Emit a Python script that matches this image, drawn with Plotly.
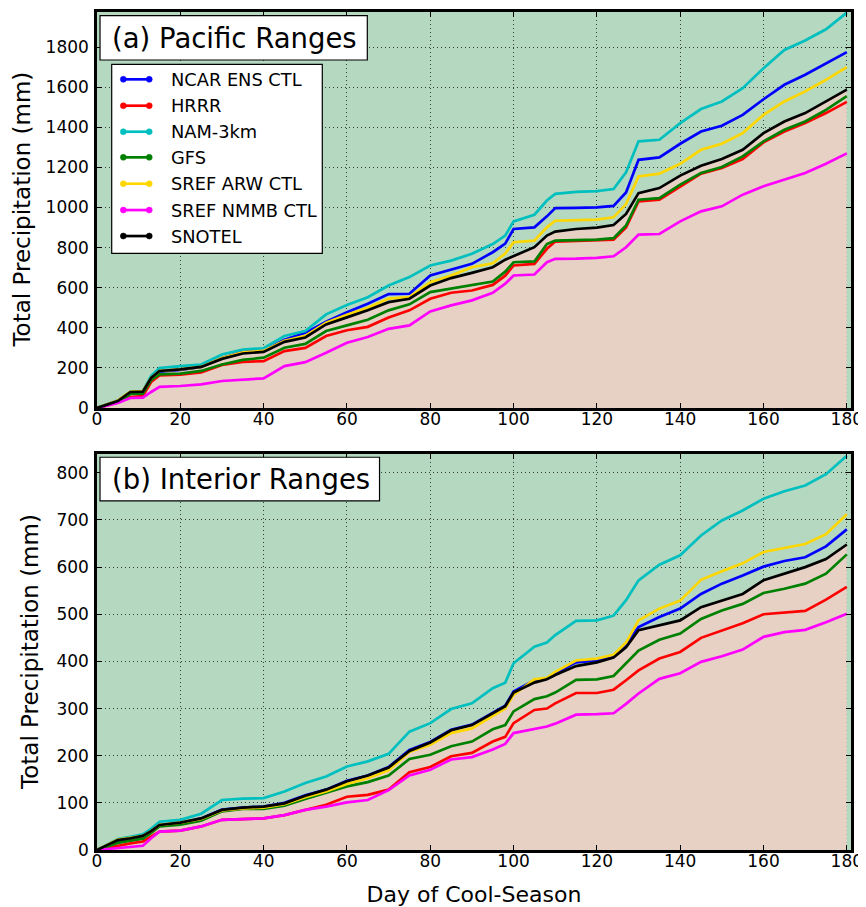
import plotly.graph_objects as go
from plotly.subplots import make_subplots

# ---------------- data ----------------
days = [0, 5, 8, 11, 13, 15, 20, 25, 30, 35, 40, 45, 50, 55, 60, 65, 70, 75, 80, 85, 90,
        95, 98, 100, 105, 108, 110, 115, 120, 124, 127, 130, 135, 140, 145, 150, 155, 160,
        165, 170, 175, 180]

series_names = ["NCAR ENS CTL", "HRRR", "NAM-3km", "GFS", "SREF ARW CTL", "SREF NMMB CTL", "SNOTEL"]
series_colors = ["#0000FF", "#FF0000", "#00BFBF", "#008000", "#FFD700", "#FF00FF", "#000000"]

# (a) Pacific Ranges
pac_ncar = [0, 37, 80, 82, 150, 182, 190, 205, 250, 280, 285, 340, 375, 430, 478, 520, 568, 570, 661, 691, 719,
            777, 820, 893, 901, 956, 997, 998, 1001, 1008, 1075, 1238, 1250, 1318, 1379, 1408, 1462, 1540,
            1612, 1662, 1720, 1775]
pac_hrrr = [0, 28, 55, 60, 130, 163, 167, 178, 215, 230, 234, 284, 300, 359, 388, 405, 452, 487, 545, 575, 586,
            614, 660, 711, 719, 794, 830, 833, 835, 840, 901, 1031, 1039, 1106, 1169, 1197, 1242, 1325,
            1379, 1421, 1471, 1527]
pac_nam = [0, 37, 82, 84, 160, 200, 209, 217, 267, 292, 298, 359, 384, 467, 514, 553, 611, 653, 711, 735, 769,
           818, 860, 931, 964, 1035, 1068, 1078, 1082, 1092, 1176, 1330, 1338, 1421, 1491, 1529, 1595, 1695,
           1786, 1833, 1889, 1972]
pac_gfs = [0, 30, 70, 72, 140, 168, 172, 185, 217, 240, 251, 301, 320, 384, 412, 440, 487, 517, 578, 595, 611,
           631, 680, 727, 731, 818, 835, 838, 840, 847, 910, 1039, 1047, 1114, 1172, 1202, 1255, 1330,
           1388, 1429, 1487, 1556]
pac_arw = [0, 38, 82, 84, 150, 185, 193, 205, 250, 278, 285, 335, 360, 425, 465, 500, 546, 553, 628, 661, 702,
           722, 770, 827, 835, 901, 934, 937, 940, 951, 1017, 1155, 1169, 1218, 1288, 1318, 1371, 1462,
           1529, 1579, 1637, 1700]
pac_nmmb = [0, 25, 50, 52, 80, 106, 110, 118, 135, 143, 148, 209, 229, 276, 326, 354, 395, 412, 482, 512, 537,
            575, 620, 661, 666, 727, 744, 745, 749, 757, 802, 865, 868, 931, 981, 1006, 1064, 1106,
            1139, 1172, 1218, 1270]
pac_snotel = [0, 35, 80, 82, 150, 185, 193, 205, 245, 272, 280, 330, 352, 417, 452, 488, 528, 545, 611, 648, 674,
              702, 740, 757, 802, 860, 880, 893, 900, 913, 968, 1072, 1097, 1159, 1208, 1242, 1288, 1371,
              1429, 1471, 1529, 1588]

# (b) Interior Ranges
int_ncar = [0, 20, 24, 28, 38, 52, 57, 67, 86, 90, 92, 100, 116, 128, 147, 158, 176, 212, 229, 255, 266,
            290, 306, 336, 360, 364, 375, 398, 402, 411, 438, 473, 494, 512, 543, 565, 582, 601,
            613, 621, 644, 680]
int_hrrr = [0, 9, 14, 18, 28, 39, 41, 50, 64, 66, 67, 74, 85, 96, 113, 117, 128, 165, 176, 199, 206,
            230, 240, 269, 297, 300, 311, 333, 333, 340, 360, 381, 406, 420, 450, 466, 481, 500,
            503, 507, 531, 558]
int_nam = [0, 23, 28, 33, 45, 60, 64, 77, 106, 109, 110, 124, 142, 156, 177, 188, 204, 251, 269, 299, 311,
           343, 355, 396, 431, 440, 456, 486, 487, 497, 530, 572, 605, 625, 667, 699, 720, 745,
           761, 773, 797, 836]
int_gfs = [0, 15, 20, 24, 36, 50, 54, 62, 82, 87, 87, 94, 108, 121, 135, 144, 158, 193, 202, 220, 230,
           256, 265, 294, 320, 326, 334, 361, 362, 369, 395, 423, 446, 459, 490, 508, 522, 545,
           554, 565, 586, 627]
int_arw = [0, 22, 26, 30, 40, 53, 58, 66, 84, 88, 90, 97, 112, 124, 140, 152, 169, 208, 223, 248, 258,
           285, 300, 329, 362, 365, 378, 402, 406, 414, 440, 487, 512, 529, 573, 591, 608, 632,
           641, 649, 670, 712]
int_nmmb = [0, 4, 7, 9, 25, 39, 41, 50, 64, 66, 67, 74, 85, 92, 101, 106, 127, 158, 170, 192, 197,
            213, 225, 248, 256, 262, 268, 287, 288, 290, 310, 332, 363, 375, 399, 411, 425, 452,
            462, 467, 483, 501]
int_snotel = [0, 21, 25, 30, 40, 53, 58, 67, 85, 90, 92, 99, 115, 128, 146, 158, 175, 210, 228, 254, 265,
              289, 305, 334, 355, 362, 371, 390, 398, 408, 430, 466, 476, 487, 515, 529, 543, 572,
              586, 600, 617, 648]

panels = [
    ("(a) Pacific Ranges", [pac_ncar, pac_hrrr, pac_nam, pac_gfs, pac_arw, pac_nmmb, pac_snotel]),
    ("(b) Interior Ranges", [int_ncar, int_hrrr, int_nam, int_gfs, int_arw, int_nmmb, int_snotel]),
]
x_ticks = [0, 20, 40, 60, 80, 100, 120, 140, 160, 180]
y_ticks_a = [0, 200, 400, 600, 800, 1000, 1200, 1400, 1600, 1800]
y_ticks_b = [0, 100, 200, 300, 400, 500, 600, 700, 800]
y_title = "Total Precipitation (mm)"
x_title = "Day of Cool-Season"

for _, arrs in panels:
    for a in arrs:
        assert len(a) == len(days), len(a)

# ---------------- style ----------------
FONT = "DejaVu Sans"
GREEN_BG = "#b4d8c0"
PINK_FILL = "#e6d1c4"

fig = make_subplots(rows=2, cols=1, vertical_spacing=0.0548)

for r, (title, arrs) in enumerate(panels, start=1):
    snotel = arrs[-1]
    fig.add_trace(go.Scatter(x=days, y=snotel, mode="lines", line=dict(width=0, color=PINK_FILL),
                             fill="tozeroy", fillcolor=PINK_FILL, showlegend=False, hoverinfo="skip"),
                  row=r, col=1)
    for name, col, vals in zip(series_names, series_colors, arrs):
        fig.add_trace(go.Scatter(x=days, y=vals, mode="lines", name=name,
                                 line=dict(color=col, width=2.7), showlegend=False),
                      row=r, col=1)

axis_common = dict(
    showline=True, linecolor="black", linewidth=2.5, mirror="ticks",
    ticks="inside", ticklen=5, tickwidth=1, tickcolor="black",
    showgrid=True, gridcolor="rgba(0,0,0,0.7)", gridwidth=1, griddash="1px,3px",
    zeroline=False, layer="above traces", automargin=False,
    tickfont=dict(family=FONT, size=17, color="black"),
)

fig.update_xaxes(range=[0, 181], tickvals=x_ticks, ticklabelstandoff=-6, **axis_common)
fig.update_yaxes(ticklabelstandoff=2, **axis_common)
fig.update_yaxes(range=[0, 1975], tickvals=y_ticks_a, row=1, col=1)
fig.update_yaxes(range=[0, 840], tickvals=y_ticks_b, row=2, col=1)
fig.update_xaxes(row=2, col=1,
                 title=dict(text=x_title, font=dict(family=FONT, size=22, color="black"), standoff=18))

shapes = []
annotations = []

# y-axis titles (rotated), placed per panel
dom_a = fig.layout.yaxis.domain
dom_b = fig.layout.yaxis2.domain
for dom, xpos in ((dom_a, -0.0988), (dom_b, -0.0889)):
    annotations.append(dict(text=y_title, xref="paper", yref="paper", x=xpos, y=(dom[0] + dom[1]) / 2,
                            xanchor="center", yanchor="middle", textangle=-90, showarrow=False,
                            font=dict(family=FONT, size=23, color="black")))

# panel titles in boxes
title_boxes = [
    ("x", "y", 0.004, 0.3585, 0.8788, 0.9907),
    ("x2", "y2", 0.004, 0.3747, 0.8813, 0.9917),
]
for (title, _), (xr, yr, x0, x1, y0, y1) in zip(panels, title_boxes):
    shapes.append(dict(type="rect", xref=f"{xr} domain", yref=f"{yr} domain",
                       x0=x0, x1=x1, y0=y0, y1=y1, fillcolor="white",
                       line=dict(color="black", width=1.2), layer="above"))
    annotations.append(dict(text=title, xref=f"{xr} domain", yref=f"{yr} domain",
                            x=0.0172, y=(y0 + y1) / 2, xanchor="left", yanchor="middle",
                            showarrow=False, font=dict(family=FONT, size=27.5, color="black")))

# legend (panel a)
shapes.append(dict(type="rect", xref="x domain", yref="y domain",
                   x0=0.0195, x1=0.2988, y0=0.3907, y1=0.868, fillcolor="white",
                   line=dict(color="black", width=1.2), layer="above"))
row_y = [0.830, 0.7634, 0.6977, 0.633, 0.5664, 0.4999, 0.4343]
lx0, lx1 = 0.0349, 0.0693
rx, ry = 3.0 / 754, 3.0 / 396
for name, col, yy in zip(series_names, series_colors, row_y):
    shapes.append(dict(type="line", xref="x domain", yref="y domain", x0=lx0, x1=lx1, y0=yy, y1=yy,
                       line=dict(color=col, width=2.7), layer="above"))
    for cx in (lx0, lx1):
        shapes.append(dict(type="circle", xref="x domain", yref="y domain",
                           x0=cx - rx, x1=cx + rx, y0=yy - ry, y1=yy + ry,
                           fillcolor=col, line=dict(color=col, width=0.5), layer="above"))
    annotations.append(dict(text=name, xref="x domain", yref="y domain", x=0.0959, y=yy,
                            xanchor="left", yanchor="middle", showarrow=False,
                            font=dict(family=FONT, size=17.8, color="black")))

# The page body has an 8px margin, so the figure is sized/offset to land on the window grid.
fig.update_layout(
    width=858, height=899,
    margin=dict(l=89, r=15, t=4, b=57),
    plot_bgcolor=GREEN_BG, paper_bgcolor="white",
    showlegend=False,
    shapes=shapes, annotations=annotations,
    font=dict(family=FONT, color="black"),
)

fig.write_html("out.html")
